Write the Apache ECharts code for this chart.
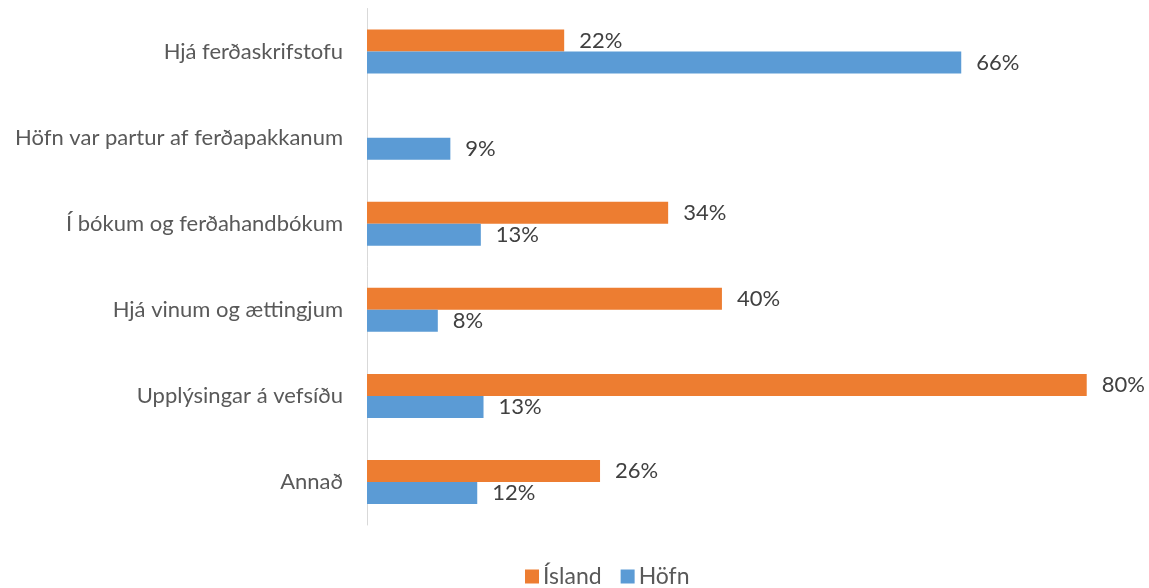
<!DOCTYPE html>
<html>
<head>
<meta charset="utf-8">
<script src="https://cdn.jsdelivr.net/npm/echarts@6/dist/echarts.min.js"></script>
<style>html,body{margin:0;padding:0;background:#fff;}#c{width:1149px;height:588px;}</style>
</head>
<body>
<div id="c"></div>
<script>
const categories = ['Hjá ferðaskrifstofu', 'Höfn var partur af ferðapakkanum', 'Í bókum og ferðahandbókum', 'Hjá vinum og ættingjum', 'Upplýsingar á vefsíðu', 'Annað'];
const islandValues = [22.0, null, 33.6, 39.6, 80.3, 26.0];
const hofnValues = [66.3, 9.3, 12.7, 7.9, 13.0, 12.3];
const seriesNames = ['Ísland', 'Höfn'];

const FONT = 'Lato';
const chart = echarts.init(document.getElementById('c'), null, {renderer: 'canvas'});
const labelCfg = {
  show: true, position: 'right', distance: 15,
  formatter: p => p.value == null ? '' : Math.round(p.value) + '%',
  color: '#404040', fontSize: 22, fontFamily: FONT
};
chart.setOption({
  animation: false,
  textStyle: {fontFamily: FONT},
  grid: {left: 367, right: 56, top: 8.5, bottom: 63, containLabel: false},
  xAxis: {
    type: 'value', min: 0, max: 81,
    axisLine: {show: false}, axisTick: {show: false}, axisLabel: {show: false}, splitLine: {show: false}
  },
  yAxis: {
    type: 'category', data: categories, inverse: true,
    axisLine: {show: true, lineStyle: {color: '#d9d9d9', width: 1}},
    axisTick: {show: false},
    axisLabel: {color: '#595959', fontSize: 22, fontFamily: FONT, margin: 24}
  },
  legend: {
    data: seriesNames, bottom: -5, left: 520, itemWidth: 14, itemHeight: 14, itemGap: 19,
    icon: 'rect',
    textStyle: {color: '#595959', fontSize: 23, fontFamily: FONT, padding: [0,0,0,-1]}
  },
  series: [
    {name: seriesNames[0], type: 'bar', data: islandValues, barWidth: 22, barGap: '0%',
     itemStyle: {color: '#ED7D31'}, label: labelCfg},
    {name: seriesNames[1], type: 'bar', data: hofnValues, barWidth: 22, barGap: '0%',
     itemStyle: {color: '#5B9BD5'}, label: labelCfg}
  ]
});
</script>
</body>
</html>
